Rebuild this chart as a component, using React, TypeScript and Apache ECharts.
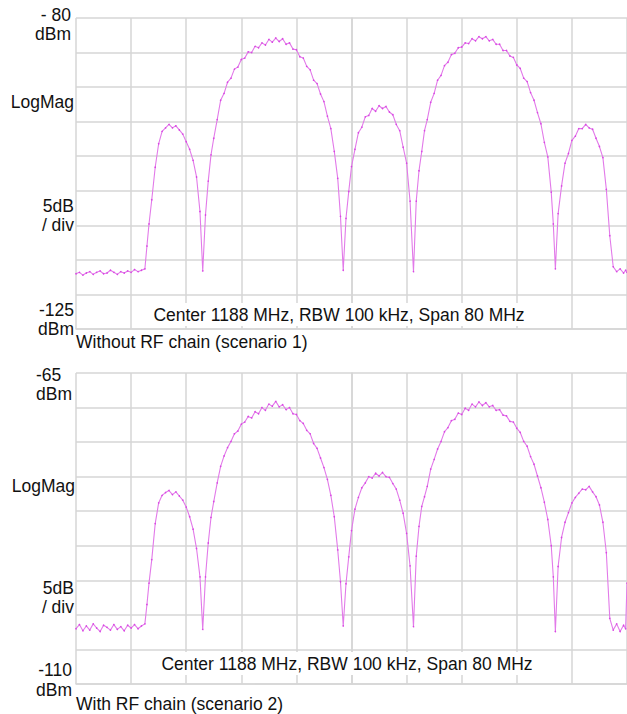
import React, { useEffect, useRef } from "react";
import * as echarts from "echarts";

// Spectrum analyser settings
const CENTER_MHZ = 1188;
const SPAN_MHZ = 80;
const DIV_MHZ = 8;

// Reference level / bottom of screen for each capture (dBm)
const TOP_REF_DBM = [-80, -65];
const BOTTOM_REF_DBM = [-125, -110];
const DB_PER_DIV = 5;

// Sweep frequencies (MHz), shared by both captures
const FREQ_MHZ = [
  // noise floor below the band
  1148, 1148.5, 1149, 1149.5, 1150, 1150.5, 1151, 1151.5, 1152, 1152.5,
  1153, 1153.5, 1154, 1154.5, 1155, 1155.5, 1156, 1156.5, 1157, 1157.5,
  // band edge and lower side lobe
  1158, 1158.3, 1158.6, 1159, 1159.5, 1160, 1160.5, 1161, 1161.5, 1162,
  1162.5, 1163, 1163.5, 1164, 1164.5, 1165, 1165.5, 1166, 1166.4,
  // lower main lobe
  1166.8, 1167.2, 1167.6, 1168, 1168.5, 1169, 1169.5, 1170, 1170.5, 1171,
  1171.5, 1172, 1172.5, 1173, 1173.5, 1174, 1174.5, 1175, 1175.5, 1176,
  1176.5, 1177, 1177.5, 1178, 1178.5, 1179, 1179.5, 1180, 1180.5, 1181,
  1181.5, 1182, 1182.5, 1183, 1183.5, 1184, 1184.5, 1185, 1185.5, 1186,
  1186.4, 1186.8,
  // centre lobe
  1187.2, 1187.6, 1188, 1188.5, 1189, 1189.5, 1190, 1190.5, 1191, 1191.5,
  1192, 1192.5, 1193, 1193.5, 1194, 1194.5, 1195, 1195.5, 1196, 1196.5, 1197,
  // upper main lobe
  1197.4, 1197.8, 1198.2, 1198.6, 1199, 1199.5, 1200, 1200.5, 1201, 1201.5,
  1202, 1202.5, 1203, 1203.5, 1204, 1204.5, 1205, 1205.5, 1206, 1206.5,
  1207, 1207.5, 1208, 1208.5, 1209, 1209.5, 1210, 1210.5, 1211, 1211.5,
  1212, 1212.5, 1213, 1213.5, 1214, 1214.5, 1215, 1215.5, 1216, 1216.5,
  1217, 1217.3, 1217.6,
  // upper side lobe and noise floor above the band
  1218, 1218.5, 1219, 1219.5, 1220, 1220.5, 1221, 1221.5, 1222, 1222.5,
  1223, 1223.5, 1224, 1224.5, 1225, 1225.5, 1226, 1226.5, 1227, 1227.5,
  1227.8, 1228,
];

// Scenario 1: without RF chain (dBm)
const LEVEL_WITHOUT_RF = [
  -117.0, -116.8, -117.2, -116.9, -116.7, -117.1, -116.8, -116.6, -117.0, -116.9,
  -116.5, -116.8, -117.1, -116.7, -116.9, -116.6, -116.8, -116.4, -116.7, -116.5,
  -116.3, -113.0, -109.8, -106.3, -101.6, -98.2, -96.4, -95.9, -95.4, -95.9,
  -95.6, -96.2, -96.8, -97.9, -99.0, -100.6, -103.0, -108.0, -116.6,
  -108.5, -103.6, -99.8, -97.4, -94.7, -91.9, -90.9, -89.3, -88.7, -87.4,
  -87.1, -86.0, -85.8, -84.9, -85.0, -84.1, -84.3, -83.6, -83.9, -83.1,
  -83.5, -82.9, -83.4, -83.0, -83.8, -83.6, -84.5, -84.6, -85.6, -85.8,
  -87.0, -87.5, -89.0, -89.5, -91.0, -92.1, -94.2, -96.0, -99.3, -103.2,
  -108.7, -116.5,
  -109.0, -105.1, -101.5, -99.0, -96.6, -95.8, -94.3, -94.1, -93.1, -93.5,
  -92.7, -93.1, -92.8, -93.6, -94.0, -95.4, -96.3, -98.7, -101.0, -106.5, -116.7,
  -106.5, -102.1, -99.3, -96.3, -94.7, -92.2, -90.9, -89.0, -88.3, -86.9,
  -86.4, -85.3, -85.1, -84.3, -84.2, -83.6, -83.7, -83.0, -83.3, -82.7,
  -83.0, -82.7, -83.3, -83.1, -83.8, -83.8, -84.7, -84.7, -85.5, -85.7,
  -86.8, -87.3, -88.7, -89.2, -90.8, -91.9, -93.7, -95.3, -98.0, -100.1,
  -105.2, -109.8, -116.3,
  -108.3, -104.3, -101.0, -99.6, -97.7, -97.1, -96.0, -96.0, -95.4, -95.9,
  -96.1, -97.4, -98.6, -100.2, -104.8, -111.5, -116.0, -116.7, -116.3, -116.9,
  -116.5, -116.8,
];

// Scenario 2: with RF chain (dBm)
const LEVEL_WITH_RF = [
  -102.0, -101.4, -102.3, -101.6, -102.2, -101.3, -101.9, -102.4, -101.5, -101.8,
  -102.2, -101.4, -102.1, -101.7, -102.3, -101.5, -101.9, -101.4, -102.0, -101.6,
  -101.3, -98.5, -95.4, -92.0, -86.8, -83.8, -82.7, -82.3, -82.0, -82.6,
  -82.2, -82.8, -83.4, -84.4, -85.8, -87.6, -90.4, -94.5, -102.1,
  -94.5, -89.6, -85.9, -83.6, -80.9, -78.5, -77.0, -75.8, -74.9, -73.8,
  -73.4, -72.4, -72.1, -71.3, -71.5, -70.6, -70.9, -70.0, -70.4, -69.5,
  -69.8, -69.1, -69.9, -69.6, -70.3, -70.0, -70.9, -71.0, -71.9, -72.3,
  -73.3, -73.8, -75.2, -75.9, -77.3, -78.7, -80.4, -82.7, -85.8, -90.6,
  -95.2, -101.6,
  -95.5, -91.6, -87.8, -84.7, -83.0, -81.6, -80.9, -80.0, -80.2, -79.5,
  -79.9, -79.4, -80.0, -80.1, -81.0, -81.8, -83.4, -85.3, -88.2, -92.9, -101.7,
  -91.5, -87.2, -84.3, -82.9, -81.4, -78.9, -77.5, -76.0, -74.9, -73.5,
  -72.9, -71.9, -71.7, -70.8, -71.0, -70.1, -70.4, -69.5, -69.9, -69.2,
  -69.7, -69.3, -69.9, -69.7, -70.4, -70.3, -71.1, -71.2, -72.0, -72.1,
  -73.0, -73.6, -74.9, -75.6, -77.1, -78.2, -79.9, -81.6, -83.7, -86.2,
  -90.0, -94.5, -102.4,
  -93.0, -88.8, -86.6, -85.2, -83.8, -83.0, -82.4, -81.8, -81.9, -81.4,
  -82.2, -82.9, -84.1, -86.6, -91.0, -100.5, -102.2, -101.3, -102.4, -101.5,
  -102.0, -95.4,
];

const SETTINGS_TEXT = "Center 1188 MHz, RBW 100 kHz, Span 80 MHz";
const CAPTIONS = ["Without RF chain (scenario 1)", "With RF chain (scenario 2)"];

const FONT = "17.5px 'Liberation Sans', Arial, Helvetica, sans-serif";
const GRID_COLOR = "#d6d6d6";
const TEXT_COLOR = "#111111";

function toSeries(levels: number[]) {
  const n = Math.min(FREQ_MHZ.length, levels.length);
  const out: [number, number][] = [];
  for (let i = 0; i < n; i++) out.push([FREQ_MHZ[i] - CENTER_MHZ, levels[i]]);
  return out;
}

function label(
  text: string,
  x: number,
  y: number,
  align: "left" | "right" | "center" = "right",
  extra: Record<string, unknown> = {}
) {
  return {
    type: "text",
    x,
    y,
    z: 10,
    style: {
      text,
      fill: TEXT_COLOR,
      font: FONT,
      lineHeight: 15,
      align,
      verticalAlign: "middle",
      ...extra,
    },
  };
}

export default function App() {
  const ref = useRef<HTMLDivElement>(null);

  useEffect(() => {
    if (!ref.current) return;
    const chart = echarts.init(ref.current, undefined, { renderer: "svg" });

    const grids = [
      { left: 76, top: 18, width: 551, height: 311 },
      { left: 76, top: 373, width: 551, height: 311 },
    ];

    const xAxes = grids.map((_, i) => ({
      type: "value",
      gridIndex: i,
      min: -SPAN_MHZ / 2,
      max: SPAN_MHZ / 2,
      interval: DIV_MHZ,
      axisLabel: { show: false },
      axisTick: { show: false },
      axisLine: { show: true, lineStyle: { color: GRID_COLOR, width: 1.5 } },
      splitLine: { show: true, lineStyle: { color: GRID_COLOR, width: 1.5 } },
    }));

    const yAxes = grids.map((_, i) => ({
      type: "value",
      gridIndex: i,
      min: BOTTOM_REF_DBM[i],
      max: TOP_REF_DBM[i],
      interval: DB_PER_DIV,
      axisLabel: { show: false },
      axisTick: { show: false },
      axisLine: { show: true, lineStyle: { color: GRID_COLOR, width: 1.5 } },
      splitLine: { show: true, lineStyle: { color: GRID_COLOR, width: 1.5 } },
    }));

    const traceStyle = {
      type: "line",
      symbol: "circle",
      symbolSize: 1.6,
      showSymbol: true,
      itemStyle: { color: "#d946e3" },
      lineStyle: { color: "#e27ae9", width: 1.1 },
      silent: true,
      clip: true,
    };

    chart.setOption({
      animation: false,
      backgroundColor: "#ffffff",
      grid: grids,
      xAxis: xAxes,
      yAxis: yAxes,
      series: [
        { ...traceStyle, xAxisIndex: 0, yAxisIndex: 0, data: toSeries(LEVEL_WITHOUT_RF) },
        { ...traceStyle, xAxisIndex: 1, yAxisIndex: 1, data: toSeries(LEVEL_WITH_RF) },
      ],
      graphic: [
        // upper capture
        label("- 80", 71, 15),
        label("dBm", 71, 34),
        label("LogMag", 74, 101.5),
        label("5dB", 74, 205.5),
        label("/ div", 74, 224.5),
        label(String(BOTTOM_REF_DBM[0]), 74, 309.5),
        label("dBm", 74, 328.5),
        label(SETTINGS_TEXT, 339, 314.5, "center", {
          backgroundColor: "#ffffff",
          padding: [4, 4, 4, 4],
        }),
        label(CAPTIONS[0], 76, 342, "left"),
        // lower capture
        label(String(TOP_REF_DBM[1]), 36, 375, "left"),
        label("dBm", 36, 394, "left"),
        label("LogMag", 75, 485.5),
        label("5dB", 74, 588),
        label("/ div", 74, 607),
        label(String(BOTTOM_REF_DBM[1]), 72, 670),
        label("dBm", 72, 689.5),
        label(SETTINGS_TEXT, 347, 663.5, "center", {
          backgroundColor: "#ffffff",
          padding: [4, 4, 4, 4],
        }),
        label(CAPTIONS[1], 76, 704, "left"),
      ],
    });

    return () => chart.dispose();
  }, []);

  return (
    <div
      ref={ref}
      style={{ position: "absolute", left: 0, top: 0, width: 627, height: 714 }}
    />
  );
}
